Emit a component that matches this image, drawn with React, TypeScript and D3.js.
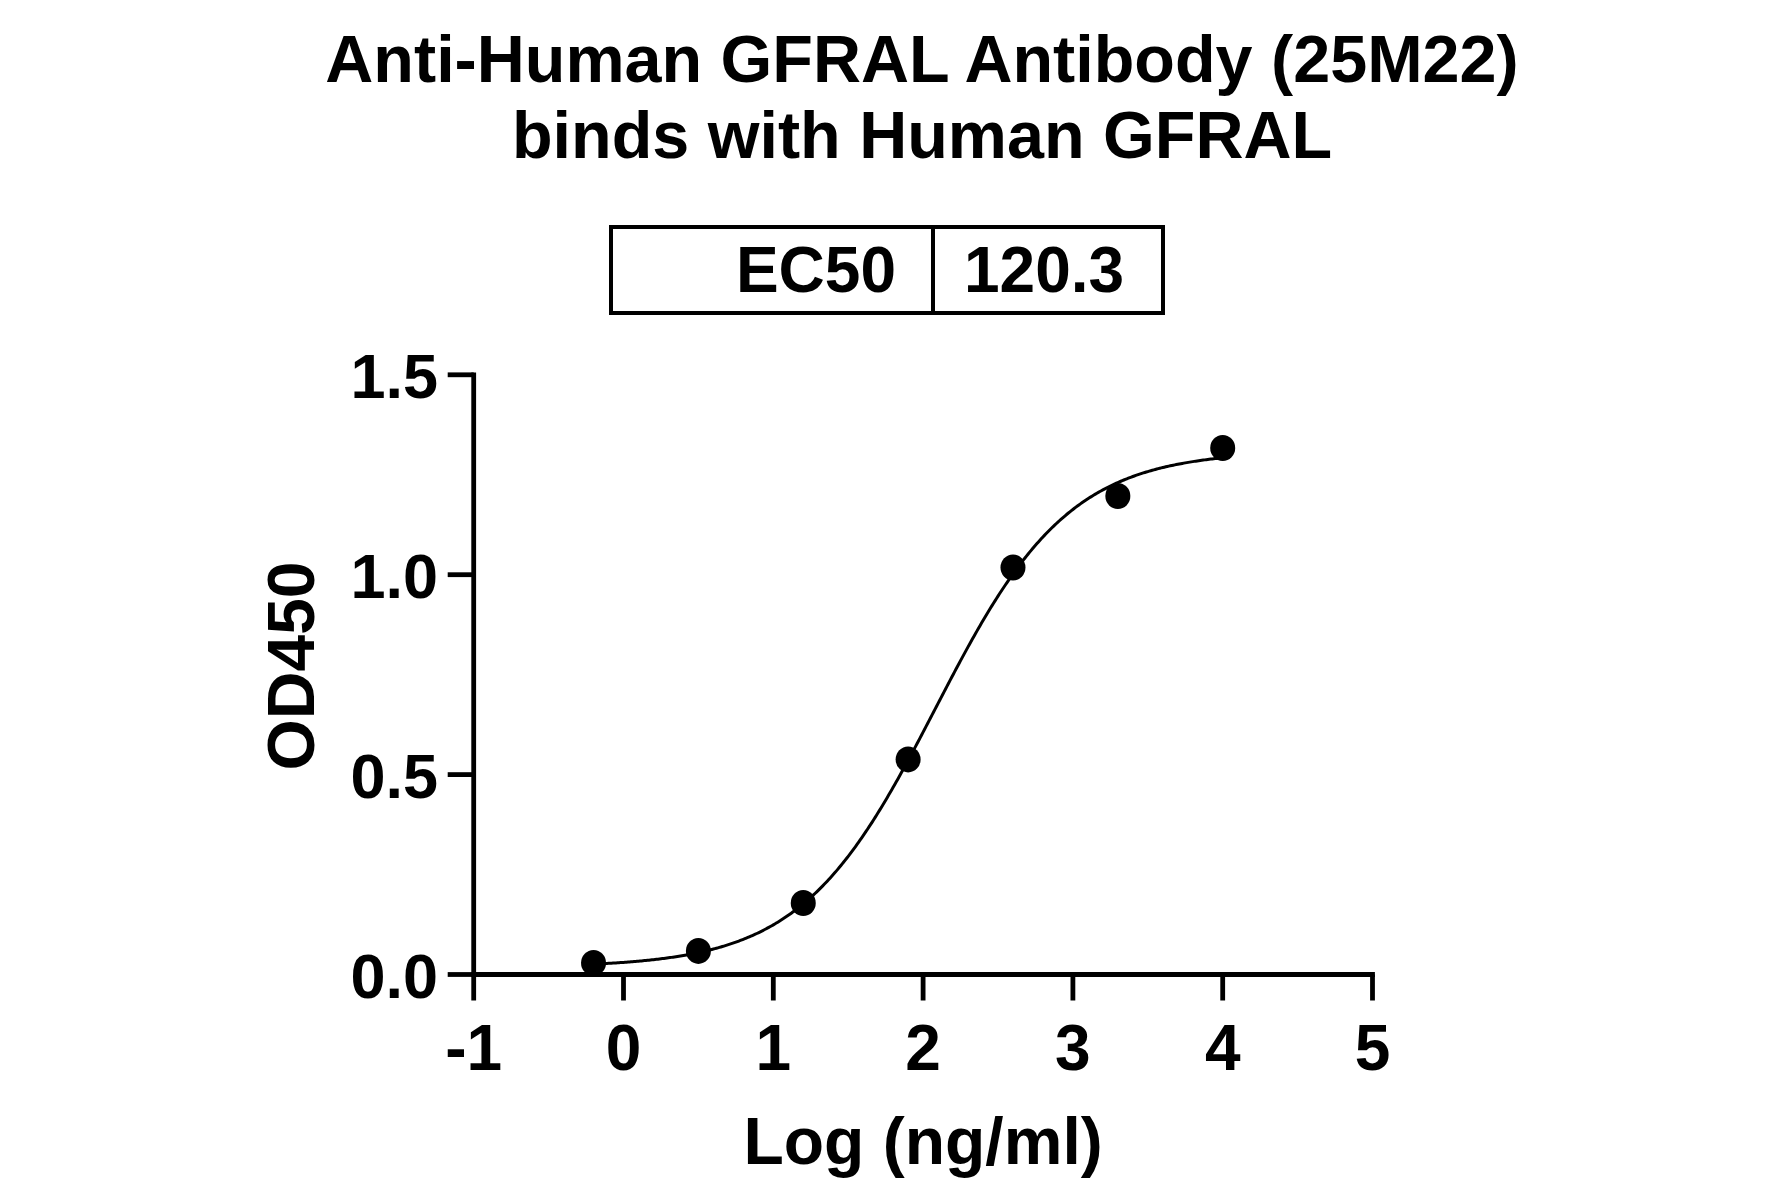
import React from "react";
import * as d3 from "d3";

// ---- data ----
const logConc: number[] = [-0.2, 0.5, 1.2, 1.9, 2.6, 3.3, 4.0];
const od450: number[] = [0.029, 0.059, 0.179, 0.538, 1.018, 1.197, 1.317];
const xTickValues: number[] = [-1, 0, 1, 2, 3, 4, 5];
const xTickLabels: string[] = ["-1", "0", "1", "2", "3", "4", "5"];
const yTickValues: number[] = [0, 0.5, 1.0, 1.5];
const yTickLabels: string[] = ["0.0", "0.5", "1.0", "1.5"];
const titleLines: string[] = [
  "Anti-Human GFRAL Antibody (25M22)",
  "binds with Human GFRAL",
];
const xAxisTitle = "Log (ng/ml)";
const yAxisTitle = "OD450";
const ec50Label = "EC50";
const ec50Value = 120.3;
// four-parameter logistic fit shown as the curve
const fitBottom = 0.018;
const fitTop = 1.31;
const fitHill = 0.97;
const fitRange: number[] = [-0.2, 4.0];

const FONT = "'Liberation Sans', Arial, Helvetica, sans-serif";

export default function App() {
  const W = 1781;
  const H = 1197;
  const x = d3.scaleLinear().domain([-1, 5]).range([473.7, 1372.5]);
  const y = d3.scaleLinear().domain([0, 1.5]).range([974.5, 374.8]);

  const logEC50 = Math.log10(ec50Value);
  const fourPL = (v: number) =>
    fitBottom + (fitTop - fitBottom) / (1 + Math.pow(10, (logEC50 - v) * fitHill));
  const curvePts = d3
    .range(fitRange[0], fitRange[1] + 1e-9, 0.01)
    .map((v) => [v, fourPL(v)] as [number, number]);
  const line = d3
    .line<[number, number]>()
    .x((d) => x(d[0]))
    .y((d) => y(d[1]))
    .curve(d3.curveLinear);

  const axisW = 4.8;
  const tickLen = 26;
  const cx = (x(-1) + x(5)) / 2;

  // EC50 box geometry
  const boxL = 611, boxR = 1163, boxT = 227, boxB = 313, boxDiv = 933;

  return (
    <svg
      width={W}
      height={H}
      style={{ position: "absolute", left: 0, top: 0, display: "block", background: "#fff" }}
      fontFamily={FONT}
      fontWeight="bold"
    >
      <rect x={0} y={0} width={W} height={H} fill="#fff" />
      {/* title */}
      <text x={922} y={81.7} textAnchor="middle" fontSize={66.5} fill="#000">
        {titleLines[0]}
      </text>
      <text x={922} y={158.3} textAnchor="middle" fontSize={66.5} fill="#000">
        {titleLines[1]}
      </text>

      {/* EC50 table */}
      <rect x={boxL} y={boxT} width={boxR - boxL} height={boxB - boxT} fill="none" stroke="#000" strokeWidth={4} />
      <line x1={boxDiv} x2={boxDiv} y1={boxT} y2={boxB} stroke="#000" strokeWidth={4} />
      <text x={896} y={292} textAnchor="end" fontSize={64} fill="#000">
        {ec50Label}
      </text>
      <text x={964} y={292} textAnchor="start" fontSize={64} fill="#000">
        {ec50Value.toFixed(1)}
      </text>

      {/* axes */}
      <line x1={x(-1)} x2={x(-1)} y1={y(1.5)} y2={y(0)} stroke="#000" strokeWidth={axisW} strokeLinecap="square" />
      <line x1={x(-1)} x2={x(5)} y1={y(0)} y2={y(0)} stroke="#000" strokeWidth={axisW} strokeLinecap="square" />
      {yTickValues.map((v, i) => (
        <g key={"yt" + i}>
          <line x1={x(-1) - tickLen} x2={x(-1)} y1={y(v)} y2={y(v)} stroke="#000" strokeWidth={axisW} />
          <text x={438} y={y(v) + 23.5} textAnchor="end" fontSize={63} fill="#000">
            {yTickLabels[i]}
          </text>
        </g>
      ))}
      {xTickValues.map((v, i) => (
        <g key={"xt" + i}>
          <line x1={x(v)} x2={x(v)} y1={y(0)} y2={y(0) + tickLen} stroke="#000" strokeWidth={axisW} />
          <text x={x(v)} y={1070} textAnchor="middle" fontSize={64} fill="#000">
            {xTickLabels[i]}
          </text>
        </g>
      ))}

      {/* axis titles */}
      <text x={cx} y={1164} textAnchor="middle" fontSize={66} fill="#000">
        {xAxisTitle}
      </text>
      <text transform={`translate(314,666) rotate(-90)`} textAnchor="middle" fontSize={66} fill="#000">
        {yAxisTitle}
      </text>

      {/* fitted curve */}
      <path d={line(curvePts) || ""} fill="none" stroke="#000" strokeWidth={3} />

      {/* data points */}
      {logConc.map((v, i) => (
        <ellipse key={"p" + i} cx={x(v)} cy={y(od450[i])} rx={12.5} ry={13} fill="#000" />
      ))}
    </svg>
  );
}
